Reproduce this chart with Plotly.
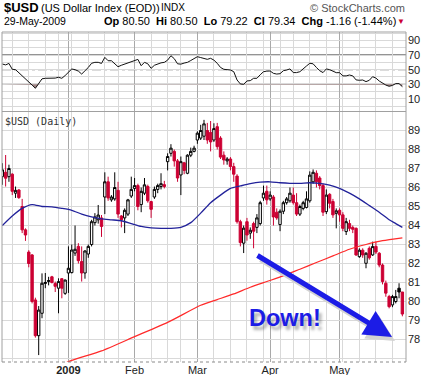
import pandas as pd
import plotly.graph_objects as go

# ---------------- data ----------------
start_date, end_date = "2008-12-03", "2009-05-29"
holidays = ["2008-12-25", "2009-01-01", "2009-01-19", "2009-02-16", "2009-04-10", "2009-05-25"]

opens = [86.57, 86.80, 86.57, 86.70, 85.70, 85.87, 85.00, 83.77, 82.60, 82.45,
         80.08, 78.20, 79.38, 80.95, 81.05, 81.30, 80.95, 80.70, 81.20, 80.43,
         81.50, 81.52, 82.55, 82.90, 82.10, 81.50, 82.50, 83.00, 84.15, 84.30,
         84.40, 85.50, 86.30, 85.35, 85.40, 85.85, 84.50, 84.40, 84.60, 85.55,
         85.95, 86.10, 85.10, 85.70, 86.05, 85.26, 85.50, 85.90, 86.05, 86.15,
         87.36, 87.80, 87.90, 87.40, 86.66, 87.30, 86.75, 87.70, 87.90, 88.50,
         88.60, 88.70, 89.00, 88.90, 88.50, 89.20, 88.60, 87.70, 87.40, 87.50,
         87.10, 86.60, 84.20, 83.07, 84.20, 83.60, 84.10, 83.90, 84.10, 85.45,
         85.80, 85.40, 85.50, 84.70, 84.05, 84.75, 85.20, 85.30, 85.60, 85.20,
         84.60, 84.90, 84.95, 85.30, 86.30, 86.75, 86.50, 86.10, 84.73, 85.64,
         85.26, 84.64, 84.80, 84.56, 83.68, 84.10, 83.90, 83.85, 82.36, 82.70,
         82.01, 82.80, 82.45, 82.90, 82.54, 81.92, 80.96, 80.26, 79.82, 80.00,
         80.70, 80.50]
highs = [87.28, 87.71, 87.20, 86.75, 86.05, 85.92, 85.40, 83.85, 82.70, 82.50,
         80.20, 79.76, 81.48, 81.50, 81.30, 81.35, 81.05, 81.22, 81.22, 81.15,
         82.90, 83.00, 84.00, 83.07, 82.90, 82.70, 83.00, 84.30, 84.65, 85.08,
         84.55, 86.80, 86.57, 85.60, 86.80, 86.30, 84.55, 84.90, 85.40, 86.57,
         86.50, 86.20, 86.00, 86.50, 86.15, 85.30, 86.05, 86.20, 86.75, 86.35,
         87.80, 88.28, 88.00, 87.50, 87.63, 87.35, 87.75, 88.10, 88.20, 88.95,
         89.30, 89.56, 89.40, 89.50, 89.38, 89.40, 88.70, 87.90, 87.60, 87.60,
         87.30, 86.70, 84.30, 84.00, 84.40, 83.90, 84.20, 84.60, 85.30, 86.10,
         86.10, 85.80, 85.60, 84.90, 84.85, 85.30, 85.50, 86.00, 86.00, 85.70,
         85.10, 85.30, 85.80, 86.85, 86.95, 86.90, 86.60, 86.20, 85.90, 85.70,
         85.40, 84.90, 84.90, 84.70, 84.40, 84.30, 84.00, 83.90, 82.80, 82.80,
         82.60, 82.90, 83.15, 83.15, 82.60, 82.00, 81.10, 80.35, 80.35, 80.61,
         80.96, 80.50]
lows = [86.14, 86.05, 86.30, 85.60, 85.45, 85.40, 83.60, 83.19, 81.80, 79.90,
        78.10, 77.18, 79.12, 80.70, 80.85, 80.95, 80.50, 79.38, 80.17, 80.35,
        80.45, 81.48, 82.40, 82.00, 81.05, 81.20, 82.30, 82.90, 84.00, 84.10,
        83.40, 84.60, 85.30, 85.25, 85.30, 84.40, 83.90, 83.60, 84.50, 85.45,
        85.80, 84.80, 84.70, 85.60, 85.20, 84.40, 85.40, 85.70, 85.90, 85.95,
        86.90, 87.63, 87.10, 86.30, 85.60, 86.70, 86.70, 87.60, 87.85, 88.30,
        88.50, 88.50, 88.30, 87.90, 88.40, 88.00, 87.50, 87.20, 87.20, 86.90,
        86.30, 84.10, 82.90, 82.55, 83.20, 83.30, 82.80, 83.60, 84.00, 85.30,
        85.10, 85.30, 84.00, 84.30, 83.70, 84.60, 85.10, 85.20, 85.10, 84.50,
        84.50, 84.80, 84.90, 85.20, 86.20, 86.00, 85.90, 84.50, 84.60, 84.90,
        84.40, 83.85, 84.20, 83.70, 83.50, 83.70, 83.60, 82.40, 82.30, 82.30,
        81.75, 82.20, 82.40, 82.50, 81.80, 80.90, 80.25, 79.64, 79.70, 79.90,
        80.17, 79.22]
closes = [86.93, 86.49, 87.00, 85.80, 85.85, 85.47, 83.77, 83.50, 82.00, 80.00,
          78.20, 79.55, 80.96, 81.00, 81.10, 81.00, 80.80, 81.05, 80.70, 81.13,
          81.75, 82.71, 82.75, 82.15, 81.50, 82.66, 82.90, 84.20, 84.45, 84.55,
          83.95, 86.30, 85.45, 85.50, 86.00, 84.60, 84.30, 84.80, 85.35, 85.90,
          86.10, 85.00, 85.80, 86.14, 85.30, 84.85, 85.90, 86.10, 86.20, 86.05,
          87.63, 88.07, 87.40, 86.50, 87.36, 86.90, 87.70, 87.90, 88.07, 88.86,
          89.00, 89.35, 88.50, 88.40, 89.10, 88.15, 87.60, 87.45, 87.50, 87.10,
          86.70, 84.20, 83.10, 83.86, 83.50, 83.75, 83.70, 84.40, 85.20, 85.70,
          85.35, 85.60, 84.45, 84.40, 84.75, 85.20, 85.40, 85.70, 85.20, 84.60,
          85.00, 85.20, 85.40, 86.65, 86.80, 86.30, 86.10, 84.70, 85.60, 85.17,
          84.56, 84.77, 84.56, 83.85, 84.20, 83.85, 83.80, 82.45, 82.70, 82.45,
          82.54, 82.30, 82.89, 82.60, 81.92, 81.05, 80.44, 79.73, 80.26, 80.26,
          80.50, 79.34]

rsi14 = [57.7, 56.5, 58.5, 50.5, 50.0, 46.0, 41.0, 36.8, 33.0, 29.0,
         24.6, 32.0, 37.5, 38.2, 38.2, 38.2, 38.5, 39.6, 38.2, 42.0,
         47.0, 50.9, 50.0, 48.0, 44.0, 48.0, 53.0, 58.7, 60.0, 60.0,
         58.5, 66.8, 62.2, 62.2, 58.0, 54.0, 56.0, 57.7, 59.0, 60.8,
         62.5, 64.0, 55.4, 60.0, 58.0, 51.8, 56.0, 57.7, 59.3, 60.0,
         63.0, 69.0, 65.0, 58.0, 57.5, 59.0, 60.0, 62.5, 65.5, 67.7,
         66.5, 65.5, 64.1, 65.5, 63.0, 58.7, 53.0, 50.5, 50.0, 49.5,
         47.2, 35.9, 30.5, 30.0, 34.6, 35.0, 38.2, 38.2, 43.0, 47.2,
         48.0, 48.2, 45.0, 44.0, 44.5, 48.6, 49.5, 51.0, 46.0, 46.0,
         47.2, 50.5, 55.0, 58.7, 58.0, 53.0, 48.5, 46.0, 51.0, 50.0,
         47.5, 45.9, 45.9, 41.5, 41.5, 42.7, 41.5, 36.0, 35.5, 35.9,
         33.7, 35.5, 40.4, 38.5, 34.5, 31.4, 29.0, 27.3, 28.5, 31.0,
         31.0, 26.8]

ma50_dates = ["2008-12-03", "2008-12-08", "2008-12-11", "2008-12-16", "2008-12-19", "2008-12-24",
              "2008-12-30", "2009-01-05", "2009-01-08", "2009-01-13", "2009-01-16", "2009-01-22",
              "2009-01-27", "2009-01-30", "2009-02-04", "2009-02-09", "2009-02-12", "2009-02-18",
              "2009-02-23", "2009-02-26", "2009-03-03", "2009-03-06", "2009-03-11", "2009-03-16",
              "2009-03-19", "2009-03-24", "2009-03-27", "2009-04-01", "2009-04-06", "2009-04-09",
              "2009-04-15", "2009-04-20", "2009-04-23", "2009-04-28", "2009-05-01", "2009-05-06",
              "2009-05-11", "2009-05-14", "2009-05-19", "2009-05-22", "2009-05-27", "2009-05-29"]
ma50_values = [84.0, 84.5, 84.9, 85.1, 85.0, 84.98,
               84.9, 84.8, 84.6, 84.45, 84.35, 84.3,
               84.25, 84.1, 83.95, 83.88, 83.85, 83.85,
               83.9, 84.15, 84.65, 85.2, 85.6, 85.95,
               86.08, 86.2, 86.28, 86.3, 86.25, 86.22,
               86.22, 86.25, 86.22, 86.12, 85.95, 85.7,
               85.4, 85.05, 84.7, 84.3, 84.1, 83.9]

ma200_dates = ["2008-12-29", "2009-01-05", "2009-01-16", "2009-02-02", "2009-02-17", "2009-03-03",
               "2009-03-10", "2009-03-17", "2009-03-24", "2009-03-31", "2009-04-07", "2009-04-15",
               "2009-04-22", "2009-04-29", "2009-05-06", "2009-05-13", "2009-05-20", "2009-05-29"]
ma200_values = [76.6, 76.9, 77.4, 78.15, 78.9, 79.8,
                80.1, 80.4, 80.75, 81.05, 81.35, 81.7,
                82.05, 82.4, 82.75, 83.0, 83.2, 83.35]

price_ticks = [77, 78, 79, 80, 81, 82, 83, 84, 85, 86, 87, 88, 89, 90]
rsi_ticks = [10, 30, 50, 70, 90]
month_names = {1: "2009", 2: "Feb", 3: "Mar", 4: "Apr", 5: "May"}

# ---------------- derived ----------------
W, H = 424, 375
ML, MR = 2, 18
PW = W - ML - MR


def px(X):
    return (X - ML) / PW


def py(Y):
    return (H - Y) / H


dates = [d for d in pd.bdate_range(start_date, end_date) if d.strftime("%Y-%m-%d") not in holidays]
date_strs = [d.strftime("%Y-%m-%d") for d in dates]
pos = {d: i for i, d in enumerate(date_strs)}
n = len(dates)
xs = list(range(n))

month_idx, month_txt, week_idx = [], [], []
for i, d in enumerate(dates):
    if i > 0 and d.month != dates[i - 1].month:
        month_idx.append(i)
        lab = month_names.get(d.month, d.strftime("%b"))
        month_txt.append("<b>%s</b>" % lab if d.month == 1 else lab)
    if i > 0 and d.weekday() < dates[i - 1].weekday():
        week_idx.append(i)

prev_close = [closes[0]] + closes[:-1]
blk = [i for i in xs if closes[i] >= prev_close[i]]
red = [i for i in xs if closes[i] < prev_close[i]]


def sub(arr, ids):
    return [arr[i] for i in ids]


RED = "#cc0033"
fig = go.Figure()

# RSI panel
fig.add_trace(go.Scatter(x=xs, y=[30] * n, mode="lines", line=dict(width=0, color="rgba(0,0,0,0)"),
                         xaxis="x2", yaxis="y2", hoverinfo="skip"))
fig.add_trace(go.Scatter(x=xs, y=[min(r, 30) for r in rsi14], mode="lines", fill="tonexty",
                         fillcolor="#a08585", line=dict(width=0, color="rgba(0,0,0,0)"),
                         xaxis="x2", yaxis="y2", hoverinfo="skip"))
fig.add_trace(go.Scatter(x=xs, y=rsi14, mode="lines", line=dict(color="#111111", width=1),
                         xaxis="x2", yaxis="y2"))

# moving averages
fig.add_trace(go.Scatter(x=[pos[d] for d in ma200_dates], y=ma200_values, mode="lines",
                         line=dict(color="#ff2a2a", width=1.2, shape="spline", smoothing=0.6),
                         xaxis="x", yaxis="y"))
fig.add_trace(go.Scatter(x=[pos[d] for d in ma50_dates], y=ma50_values, mode="lines",
                         line=dict(color="#22229a", width=1.3, shape="spline", smoothing=0.6),
                         xaxis="x", yaxis="y"))

# candles
fig.add_trace(go.Candlestick(x=blk, open=sub(opens, blk), high=sub(highs, blk), low=sub(lows, blk),
                             close=sub(closes, blk), whiskerwidth=0,
                             increasing=dict(line=dict(color="black", width=1), fillcolor="white"),
                             decreasing=dict(line=dict(color="black", width=1), fillcolor="black"),
                             xaxis="x", yaxis="y"))
fig.add_trace(go.Candlestick(x=red, open=sub(opens, red), high=sub(highs, red), low=sub(lows, red),
                             close=sub(closes, red), whiskerwidth=0,
                             increasing=dict(line=dict(color=RED, width=1), fillcolor="white"),
                             decreasing=dict(line=dict(color=RED, width=1), fillcolor=RED),
                             xaxis="x", yaxis="y"))

FONT = "Liberation Sans, Arial, sans-serif"
GRID = "#d9d9d9"
MGRID = "#a9a9a9"
xcommon = dict(range=[-0.1, 122.1], tickmode="array", tickvals=month_idx, ticktext=month_txt,
               showgrid=True, gridcolor=MGRID, gridwidth=1, zeroline=False, showline=False, ticks="",
               minor=dict(tickmode="array", tickvals=week_idx, showgrid=True, gridcolor=GRID, gridwidth=1),
               fixedrange=True)

fig.update_layout(
    width=W, height=H, margin=dict(l=ML, r=MR, t=0, b=0, autoexpand=False),
    paper_bgcolor="white", plot_bgcolor="white", showlegend=False,
    boxgap=0.15, boxgroupgap=0.15,
    xaxis=dict(xcommon, domain=[0, 1], anchor="y", rangeslider=dict(visible=False),
               tickfont=dict(family=FONT, size=11, color="#222222"), automargin=False),
    yaxis=dict(domain=[py(362), py(111.5)], range=[76.816, 90.0], side="right", anchor="x",
               tickmode="array", tickvals=price_ticks,
               ticktext=["" if v in (77, 90) else str(v) for v in price_ticks],
               showgrid=True, gridcolor=GRID, zeroline=False, ticks="", ticklabelstandoff=1,
               tickfont=dict(family=FONT, size=11, color="#222222"), automargin=False, fixedrange=True),
    xaxis2=dict(xcommon, domain=[0, 1], anchor="y2", matches="x", showticklabels=False),
    yaxis2=dict(domain=[py(111.5), py(32)], range=[-7.1, 101.4], side="right", anchor="x2",
                tickmode="array", tickvals=rsi_ticks, showgrid=True, gridcolor=GRID, zeroline=False,
                ticks="", ticklabelstandoff=1,
                minor=dict(tickmode="array", tickvals=[0, 20, 40, 60, 80, 100], showgrid=True, gridcolor=GRID),
                tickfont=dict(family=FONT, size=11, color="#222222"), automargin=False, fixedrange=True),
)

shapes = []
# RSI reference lines
for lvl, dash in ((70, "solid"), (30, "solid"), (50, "dashdot")):
    shapes.append(dict(type="line", xref="paper", yref="y2", x0=0, x1=1, y0=lvl, y1=lvl, layer="below",
                       line=dict(color="#707070", width=1.3, dash=dash)))
# frames
FR = "#a0a0a0"
for Y in (32, 111.5):
    shapes.append(dict(type="line", xref="paper", yref="paper", x0=0, x1=1, y0=py(Y), y1=py(Y),
                       line=dict(color=FR, width=1)))
for X in (ML, W - MR):
    shapes.append(dict(type="line", xref="paper", yref="paper", x0=px(X), x1=px(X), y0=py(32), y1=py(362),
                       line=dict(color=FR, width=1)))
shapes.append(dict(type="line", xref="paper", yref="paper", x0=0, x1=1, y0=py(362), y1=py(362),
                   line=dict(color="#8a8a8a", width=1, dash="dot")))
fig.update_layout(shapes=shapes)

last = dates[-1].strftime("%d-%b-%Y")
chg = closes[-1] - closes[-2]
pct = chg / closes[-2] * 100
sp = "\u00a0"
quote = ("<b>Op</b> %.2f%s<b>Hi</b> %.2f%s<b>Lo</b> %.2f%s<b>Cl</b> %.2f%s<b>Chg</b> %.2f (%.2f%%)"
         % (opens[-1], sp * 2, highs[-1], sp * 2, lows[-1], sp * 2, closes[-1], sp * 2, chg, pct))

ann = [
    dict(text="<b>$USD</b>", x=px(1.5), y=py(8), font=dict(size=13, color="black")),
    dict(text="(US Dollar Index (EOD))", x=px(38.5), y=py(8), font=dict(size=11, color="black")),
    dict(text="INDX", x=px(159), y=py(8), font=dict(size=10, color="black")),
    dict(text="\u00a9 StockCharts.com", x=px(407), y=py(7.5), xanchor="right", font=dict(size=11, color="#555555")),
    dict(text=last, x=px(1.5), y=py(21), font=dict(size=10.5, color="black")),
    dict(text=quote, x=px(398), y=py(21), xanchor="right", font=dict(size=11, color="black")),
    dict(text="\u25bc", x=px(407.5), y=py(21.5), xanchor="right", font=dict(size=8, color=RED)),
    dict(text="$USD (Daily)", x=px(3), y=py(121), font=dict(family="DejaVu Sans Mono, monospace", size=10, color="#333333")),
    # arrow shadow + arrow
    dict(text="", x=px(395), y=py(341), showarrow=True, ax=-137, ay=-83, arrowhead=2, arrowsize=1.1,
         arrowwidth=5, arrowcolor="#d2d2d2", standoff=0),
    dict(text="", x=px(392), y=py(337), showarrow=True, ax=-137, ay=-83, arrowhead=2, arrowsize=1.1,
         arrowwidth=5, arrowcolor="#1c1ce6", standoff=0),
    dict(text="<b>Down!</b>", x=px(284.5), y=py(318), xanchor="center",
         font=dict(size=23.5, color="#1c1ce6", shadow="3px 4px 3px rgba(0,0,0,0.3)")),
]
for a in ann:
    a.setdefault("xref", "paper")
    a.setdefault("yref", "paper")
    a.setdefault("xanchor", "left")
    a.setdefault("yanchor", "middle")
    a.setdefault("showarrow", False)
    f = a.setdefault("font", dict(size=10))
    f.setdefault("family", FONT)
fig.update_layout(annotations=ann)

fig.write_html("out.html", config={"displayModeBar": False, "staticPlot": True},
               post_script="document.body.style.margin='0px';document.body.style.overflow='hidden';")
